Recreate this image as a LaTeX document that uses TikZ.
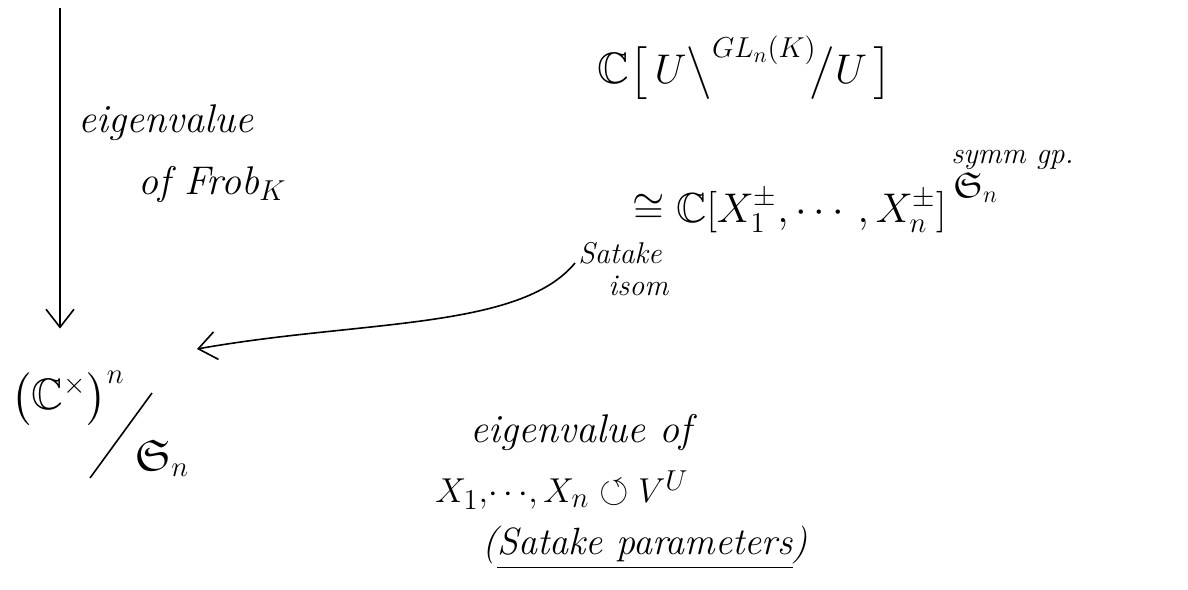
\documentclass[tikz,border=0pt]{standalone}
\usepackage{amsmath}
\usepackage{amssymb}
\usepackage{tikz}
\usetikzlibrary{arrows.meta,calc,positioning}
\tikzset{
  hand/.style={font=\fontsize{20}{24}\selectfont\itshape, inner sep=1pt},
  small/.style={font=\fontsize{15}{18}\selectfont\itshape, inner sep=1pt},
  big/.style={font=\fontsize{22}{26}\selectfont, inner sep=1pt},
  arr/.style={thick,-{Straight Barb[length=9pt,width=14pt]}}
}

\begin{document}
\begin{tikzpicture}[x=0.5pt,y=-0.5pt]
  \useasboundingbox (0,0) rectangle (1188,589);
  % Quotient unten links
  \node[big] (pow) at (68,398) {$\bigl(\mathbb{C}^{\times}\bigr)^{n}$};
  \node[big] (sym) at (162,458) {$\mathfrak{S}_n$};
  \draw[thick] (90,478) -- (152,393);
  % Hecke-Algebra oben rechts
  \node[big] (hecke) at (745,68) {$\mathbb{C}\bigl[\,U\big\backslash^{GL_n(K)}\!\big/U\,\bigr]$};
  \node[font=\fontsize{21}{25}\selectfont,inner sep=1pt,anchor=base west] (iso) at (630,222) {$\cong\mathbb{C}[X_1^{\pm},\cdots,X_n^{\pm}]$};
  \node[font=\fontsize{18}{22}\selectfont,inner sep=1pt,anchor=north west] (sgp) at ($(iso.north east)+(2,-16)$) {$\mathfrak{S}_n$};
  \node[small,anchor=south west] (symm) at ($(sgp.north west)+(-2,2)$) {symm gp.};
  \node[small,align=left,anchor=north west] (satake) at (576,240) {Satake\\[-2pt]\quad isom};
  % Pfeile
  \coordinate (top) at (60,8);
  \draw[arr,shorten >=20pt] (top) -- (top |- pow.north);
  \node[hand,align=left,anchor=north west] (frob) at (76,102) {eigenvalue\\[7pt] \hspace*{30pt}of Frob$_K$};
  \coordinate (start) at (575,263);
  \coordinate (tip) at (197,349);
  \draw[arr] (start) .. controls (520,330) and (360,320) .. (tip);
  % Satake-Parameter
  \node[hand,anchor=west] (eig) at (468,432) {eigenvalue of};
  \node[font=\fontsize{19}{23}\selectfont,inner sep=1pt] (act) at (562,490) {$X_1,\!\cdots\!,X_n\circlearrowleft V^{U}$};
  \node[font=\fontsize{19}{23}\selectfont\itshape,inner sep=1pt] (param) at (645,548) {(\underline{Satake parameters})};
\end{tikzpicture}
\end{document}
